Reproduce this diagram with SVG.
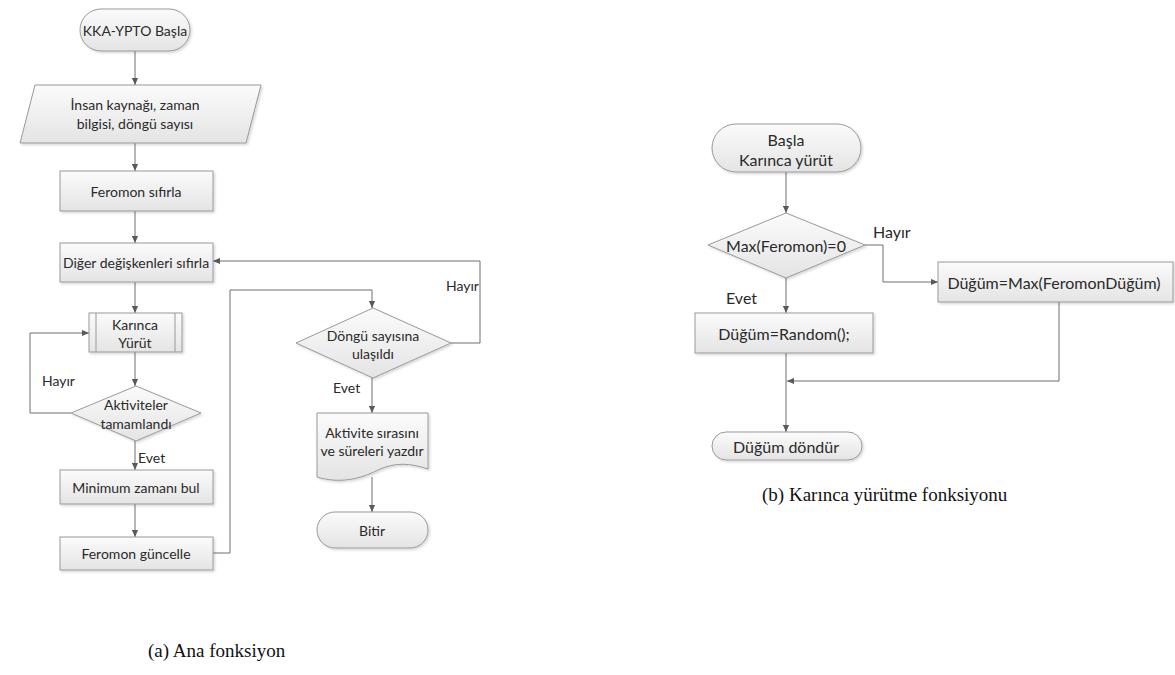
<svg xmlns="http://www.w3.org/2000/svg" width="1175" height="675" viewBox="0 0 1175 675">
<defs>
<linearGradient id="g" x1="0" y1="0" x2="0" y2="1">
<stop offset="0" stop-color="#fbfbfb"/>
<stop offset="1" stop-color="#e4e4e4"/>
</linearGradient>
<filter id="sh" x="-10%" y="-10%" width="130%" height="140%">
<feDropShadow dx="1.5" dy="1.5" stdDeviation="1" flood-color="#000" flood-opacity="0.16"/>
</filter>
<marker id="ar" viewBox="0 0 8 8" refX="8" refY="4" markerWidth="7" markerHeight="7" markerUnits="userSpaceOnUse" orient="auto">
<path d="M0,0.5 L8,4 L0,7.5 Z" fill="#595959"/>
</marker>
<style>
.s{fill:url(#g);stroke:#999;stroke-width:1;filter:url(#sh)}
.ln{fill:none;stroke:#999;stroke-width:1}
.c{stroke:#6f6f6f;stroke-width:1;fill:none;marker-end:url(#ar)}
text{font-family:Lato,"Open Sans","Liberation Sans",sans-serif;font-size:14px;fill:#2a2a2a}
.r{font-size:16px}
.m{text-anchor:middle;dominant-baseline:central}
.lb{dominant-baseline:central}
.cap{font-family:"Liberation Serif","Times New Roman",serif;font-size:19px;fill:#111}
</style>
</defs>

<g id="connectors">
<line class="c" x1="135" y1="51" x2="135" y2="85"/>
<line class="c" x1="135" y1="143" x2="135" y2="171"/>
<line class="c" x1="135" y1="211" x2="135" y2="243"/>
<line class="c" x1="135" y1="282" x2="135" y2="313"/>
<line class="c" x1="135" y1="352" x2="135" y2="386"/>
<polyline class="c" points="71,413 30,413 30,333 89,333"/>
<line class="c" x1="135" y1="441" x2="135" y2="470"/>
<line class="c" x1="135" y1="504" x2="135" y2="537"/>
<polyline class="c" points="213,553 230,553 230,290 372,290 372,308"/>
<polyline class="c" points="451,343 480,343 480,261 213,261"/>
<line class="c" x1="372" y1="378" x2="372" y2="413"/>
<line class="c" x1="372" y1="477" x2="372" y2="512"/>
<line class="c" x1="786" y1="172" x2="786" y2="213"/>
<polyline class="c" points="865,245 883,245 883,282 938,282"/>
<line class="c" x1="786" y1="278" x2="786" y2="313"/>
<polyline class="c" points="1059,302 1059,381 787,381"/>
<line class="c" x1="786" y1="353" x2="786" y2="432"/>
<text x="42" y="380" class="lb">Hayır</text>
<text x="138" y="457" class="lb">Evet</text>
<text x="446" y="285" class="lb">Hayır</text>
<text x="333" y="387" class="lb">Evet</text>
<text x="873" y="231" class="lb r">Hayır</text>
<text x="726" y="297" class="lb r">Evet</text>
</g>

<g id="a-start">
<rect class="s" x="80" y="9" width="110" height="42" rx="21"/>
<text x="135" y="30" class="m">KKA-YPTO Başla</text>
</g>
<g id="a-input">
<polygon class="s" points="35,85 261,85 246,143 20,143"/>
<text x="135" y="104" class="m">İnsan kaynağı, zaman</text>
<text x="135" y="123" class="m">bilgisi, döngü sayısı</text>
</g>
<g id="a-feromon-sifirla">
<rect class="s" x="60" y="171" width="153" height="40"/>
<text x="136" y="191" class="m">Feromon sıfırla</text>
</g>
<g id="a-diger">
<rect class="s" x="60" y="243" width="153" height="39"/>
<text x="136" y="262" class="m">Diğer değişkenleri sıfırla</text>
</g>
<g id="a-karinca">
<rect class="s" x="89" y="313" width="93" height="39"/>
<line class="ln" x1="96" y1="313" x2="96" y2="352"/>
<line class="ln" x1="175" y1="313" x2="175" y2="352"/>
<text x="135" y="324" class="m">Karınca</text>
<text x="135" y="342" class="m">Yürüt</text>
</g>
<g id="a-aktiviteler">
<polygon class="s" points="136,386 201,413 136,441 71,413"/>
<text x="136" y="404" class="m">Aktiviteler</text>
<text x="136" y="423" class="m">tamamlandı</text>
</g>
<g id="a-minimum">
<rect class="s" x="60" y="470" width="153" height="34"/>
<text x="136" y="487" class="m">Minimum zamanı bul</text>
</g>
<g id="a-feromon-guncelle">
<rect class="s" x="60" y="537" width="153" height="33"/>
<text x="136" y="553" class="m">Feromon güncelle</text>
</g>
<g id="a-dongu">
<polygon class="s" points="373,308 451,343 373,378 296,343"/>
<text x="373" y="335" class="m">Döngü sayısına</text>
<text x="373" y="353" class="m">ulaşıldı</text>
</g>
<g id="a-yazdir">
<path class="s" d="M317,413 H428 V469 C410,463 395,462 378,470 C360,479 340,484 317,477 Z"/>
<text x="372" y="432" class="m">Aktivite sırasını</text>
<text x="372" y="450" class="m">ve süreleri yazdır</text>
</g>
<g id="a-bitir">
<rect class="s" x="317" y="512" width="111" height="36" rx="18"/>
<text x="372" y="530" class="m">Bitir</text>
</g>

<g id="b-start">
<rect class="s" x="712" y="124" width="149" height="48" rx="24"/>
<text x="786" y="139" class="m r">Başla</text>
<text x="786" y="159" class="m r">Karınca yürüt</text>
</g>
<g id="b-max">
<polygon class="s" points="786,213 865,245 786,278 708,245"/>
<text x="786" y="245" class="m r">Max(Feromon)=0</text>
</g>
<g id="b-maxdugum">
<rect class="s" x="938" y="262" width="235" height="40"/>
<text x="1054" y="282" class="m r">Düğüm=Max(FeromonDüğüm)</text>
</g>
<g id="b-random">
<rect class="s" x="695" y="313" width="178" height="40"/>
<text x="784" y="333" class="m r">Düğüm=Random();</text>
</g>
<g id="b-dondur">
<rect class="s" x="712" y="432" width="150" height="28" rx="14"/>
<text x="786" y="446" class="m r">Düğüm döndür</text>
</g>

<g id="captions">
<text x="762" y="501" class="cap">(b) Karınca yürütme fonksiyonu</text>
<text x="148" y="657" class="cap">(a) Ana fonksiyon</text>
</g>
</svg>
